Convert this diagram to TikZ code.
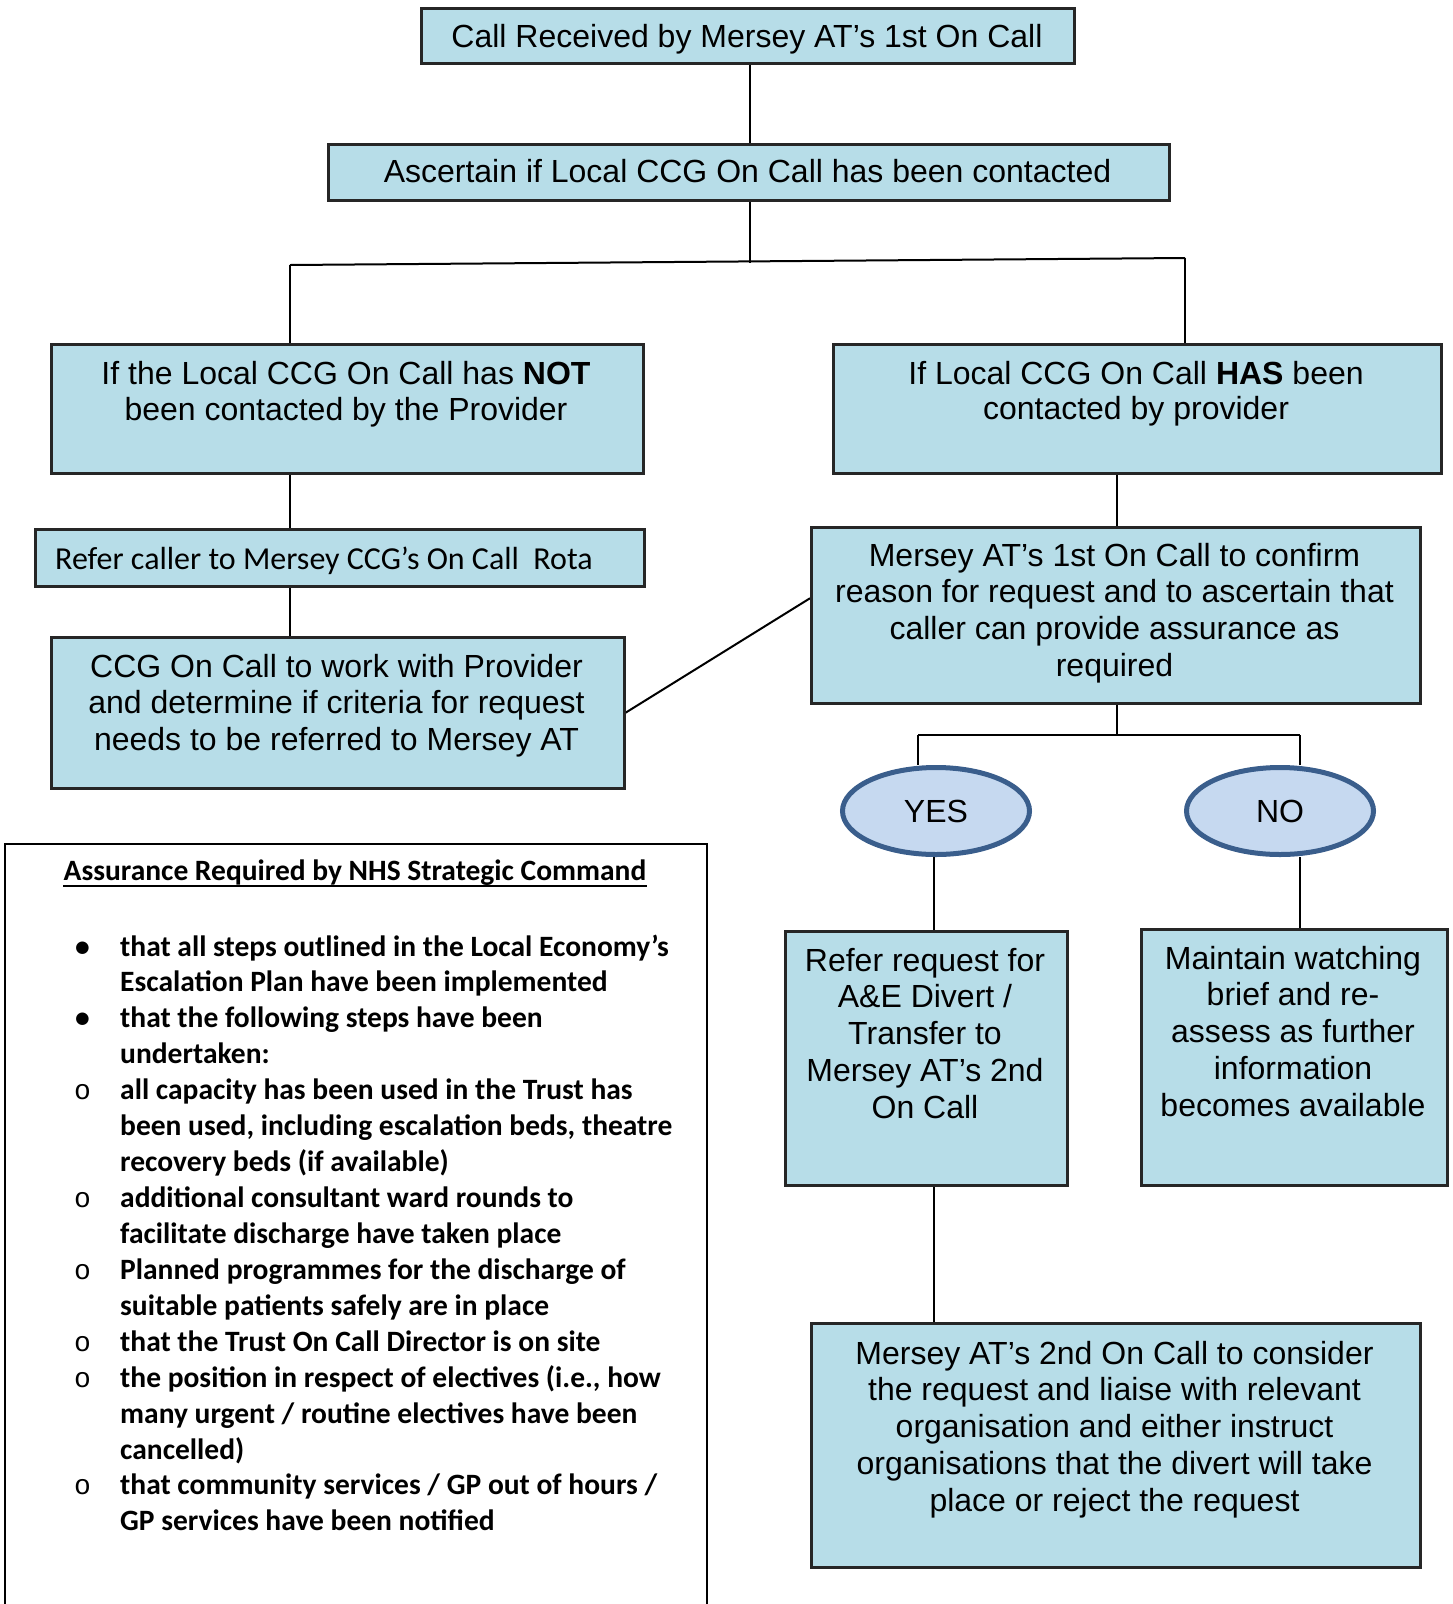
\documentclass[tikz,border=0pt]{standalone}
\usepackage{fontspec}
\setmainfont{Liberation Sans}
\newfontfamily\carlito{Carlito}
\newfontfamily\lmono{Liberation Mono}
\usetikzlibrary{shapes.geometric,backgrounds}
\definecolor{boxfill}{RGB}{183,221,232}
\definecolor{ellfill}{RGB}{198,217,240}
\definecolor{elldraw}{RGB}{58,94,140}
\newcommand\mlines[2][36.8pt]{\vtop{\baselineskip=#1\halign{\hfil##\hfil\cr#2\crcr}}}
\newcommand\bulA{\llap{\makebox[45pt][l]{•}}}
\newcommand\bulB{\llap{\makebox[45pt][l]{\hspace{-1pt}{\lmono\mdseries\fontsize{28}{28}\selectfont o}}}}
\begin{document}
\begin{tikzpicture}[x=1pt,y=-1pt,
  box/.style={draw=black!85, line width=2.5pt, fill=boxfill, rectangle, inner sep=0pt, anchor=north west},
  txt/.style={inner sep=0pt, font=\fontsize{32}{36.8}\selectfont, anchor=base},
  oval/.style={ellipse, draw=elldraw, line width=5pt, fill=ellfill, inner sep=0pt, minimum width=187pt, minimum height=87pt, font=\fontsize{32}{36.8}\selectfont},
  link/.style={line width=2pt, black},
  cal/.style={inner sep=0pt, font=\carlito\bfseries\fontsize{29.5}{35.93}\selectfont},
]
\useasboundingbox (0,0) rectangle (1452,1604);

% boxes
\node[box, minimum width=653pt, minimum height=55pt] (b1) at (420,7) {};
\node[txt] (t1) at (747,47) {Call Received by Mersey AT’s 1st On Call};

\node[box, minimum width=841pt, minimum height=56pt] (b2) at (327,143) {};
\node[txt] (t2) at (747.5,182) {Ascertain if Local CCG On Call has been contacted};

\node[box, minimum width=592pt, minimum height=129pt] (b3) at (50,343) {};
\node[txt] (t3) at (346,384) {\mlines[36pt]{If the Local CCG On Call has \textbf{NOT}\cr been contacted by the Provider}};

\node[box, minimum width=608pt, minimum height=129pt] (b4) at (832,343) {};
\node[txt] (t4) at (1136,384) {\mlines[35pt]{If Local CCG On Call \textbf{HAS} been\cr contacted by provider}};

\node[box, minimum width=609pt, minimum height=57pt] (b5) at (34,528) {};
\node[txt, anchor=base west, font=\carlito\fontsize{32}{36}\selectfont] (t5) at (55,569) {Refer caller to Mersey CCG’s On Call\ \ Rota};

\node[box, minimum width=573pt, minimum height=151pt] (b6) at (50,636) {};
\node[txt] (t6) at (336.5,677) {\mlines{CCG On Call to work with Provider\cr and determine if criteria for request\cr needs to be referred to Mersey AT}};

\node[box, minimum width=609pt, minimum height=176pt] (b7) at (810,526) {};
\node[txt] (t7) at (1114.5,566) {\mlines{Mersey AT’s 1st On Call to confirm\cr reason for request and to ascertain that\cr caller can provide assurance as\cr required}};

\node[oval] (yes) at (936,811) {YES};
\node[oval] (no) at (1280,811) {NO};

\node[box, minimum width=282pt, minimum height=254pt] (b8) at (784,930) {};
\node[txt] (t8) at (925,971) {\mlines{Refer request for\cr A\&E Divert /\cr Transfer to\cr Mersey AT’s 2nd\cr On Call}};

\node[box, minimum width=306pt, minimum height=256pt] (b9) at (1140,928) {};
\node[txt] (t9) at (1293,969) {\mlines{Maintain watching\cr brief and re-\cr assess as further\cr information\cr becomes available}};

\node[box, minimum width=609pt, minimum height=244pt] (b10) at (810,1322) {};
\node[txt] (t10) at (1114.5,1364) {\mlines{Mersey AT’s 2nd On Call to consider\cr the request and liaise with relevant\cr organisation and either instruct\cr organisations that the divert will take\cr place or reject the request}};

% assurance panel
\node[draw=black, line width=2pt, fill=white, rectangle, inner sep=0pt, anchor=north west, minimum width=702pt, minimum height=766pt] (asr) at (4,843) {};
\node[cal, anchor=base] (ttl) at (355,880) {Assurance Required by NHS Strategic Command};
\draw[line width=2pt] ([yshift=-6pt]ttl.base west) -- ([yshift=-6pt]ttl.base east);
\node[cal, anchor=base west] (lst) at (120,956) {\vtop{\baselineskip=35.93pt
  \hbox{\bulA that all steps outlined in the Local Economy’s}
  \hbox{Escalation Plan have been implemented}
  \hbox{\bulA that the following steps have been}
  \hbox{undertaken:}
  \hbox{\bulB all capacity has been used in the Trust has}
  \hbox{been used, including escalation beds, theatre}
  \hbox{recovery beds (if available)}
  \hbox{\bulB additional consultant ward rounds to}
  \hbox{facilitate discharge have taken place}
  \hbox{\bulB Planned programmes for the discharge of}
  \hbox{suitable patients safely are in place}
  \hbox{\bulB that the Trust On Call Director is on site}
  \hbox{\bulB the position in respect of electives (i.e., how}
  \hbox{many urgent / routine electives have been}
  \hbox{cancelled)}
  \hbox{\bulB that community services / GP out of hours /}
  \hbox{GP services have been notified}}};

% connectors
\coordinate (jM) at (750,263);
\coordinate (jL) at (290,265);
\coordinate (jR) at (1185,258);
\coordinate (jN) at (1117,735);
\coordinate (jY) at (918,735);
\coordinate (jNo) at (1300,735);
\coordinate (cY) at (934,900);
\begin{pgfonlayer}{background}
\draw[link] (b1.south -| jM) -- (b2.north -| jM);
\draw[link] (b2.south -| jM) -- (jM);
\draw[link] (jL) -- (jR);
\draw[link] (jL) -- (jL |- b3.north);
\draw[link] (jR) -- (jR |- b4.north);
\draw[link] (b3.south -| jL) -- (b5.north -| jL);
\draw[link] (b5.south -| jL) -- (b6.north -| jL);
\draw[link] (b6.east) -- ([yshift=17pt]b7.west);
\draw[link] (b4.south -| jN) -- (b7.north -| jN);
\draw[link] (b7.south -| jN) -- (jN);
\draw[link] (jY) -- (jNo);
\draw[link] (jY) -- (yes.north -| jY);
\draw[link] (jNo) -- (no.north -| jNo);
\draw[link] (yes.south -| cY) -- (b8.north -| cY);
\draw[link] (no.south -| jNo) -- (b9.north -| jNo);
\draw[link] (b8.south -| cY) -- (b10.north -| cY);
\end{pgfonlayer}
\end{tikzpicture}
\end{document}
